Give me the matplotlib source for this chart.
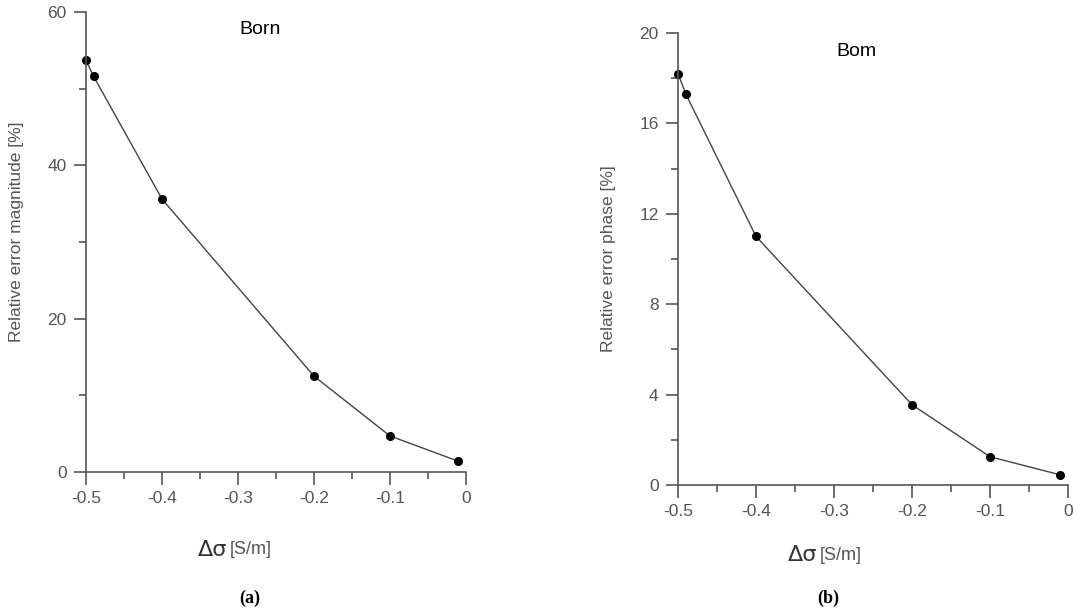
import matplotlib
matplotlib.use("Agg")
import matplotlib.pyplot as plt
from matplotlib.ticker import MultipleLocator

# Data
x_vals = [-0.5, -0.49, -0.4, -0.2, -0.1, -0.01]
mag_err = [53.7, 51.6, 35.6, 12.5, 4.7, 1.4]
phase_err = [18.2, 17.3, 11.0, 3.55, 1.25, 0.45]
titles = ["Born", "Bom"]
ylabels = ["Relative error magnitude [%]", "Relative error phase [%]"]
panel_labels = ["(a)", "(b)"]
xtick_vals = [-0.5, -0.4, -0.3, -0.2, -0.1, 0]
xtick_labels = ["-0.5", "-0.4", "-0.3", "-0.2", "-0.1", "0"]
ytick_mag = [0, 20, 40, 60]
ytick_phase = [0, 4, 8, 12, 16, 20]

font = "Liberation Sans"

fig = plt.figure(figsize=(10.74, 6.15), dpi=100)
ax1 = fig.add_axes([86/1074, 1-472/615, 380/1074, 460/615])
ax2 = fig.add_axes([678/1074, 1-485/615, 390/1074, 452/615])

gray = "#555555"
specs = [
    (ax1, mag_err, ytick_mag, 10, titles[0], ylabels[0], panel_labels[0], (260, 30), (17, 232), (240, 550), (250, 598)),
    (ax2, phase_err, ytick_phase, 2, titles[1], ylabels[1], panel_labels[1], (856, 52), (609, 259), (830, 555), (828, 598)),
]
for ax, yv, yt, mnr, ttl, yl, pl, tpos, ylpos, xlpos, plpos in specs:
    ax.plot(x_vals, yv, color="#444444", lw=1.0, marker="o", ms=5.5,
            mfc="black", mec="black", clip_on=False)
    ax.spines["top"].set_visible(False)
    ax.spines["right"].set_visible(False)
    for s in ("left", "bottom"):
        ax.spines[s].set_color(gray)
        ax.spines[s].set_linewidth(1.2)
    ax.set_xticks(xtick_vals)
    ax.set_xticklabels(xtick_labels)
    ax.set_yticks(yt)
    ax.set_yticklabels([str(t) for t in yt])
    ax.xaxis.set_minor_locator(MultipleLocator(0.05))
    ax.yaxis.set_minor_locator(MultipleLocator(mnr))
    ax.set_xlim(-0.5, 0)
    ax.set_ylim(yt[0], yt[-1])
    ax.tick_params(which="major", direction="out", length=9, width=1.2, color=gray,
                   labelcolor="#555555", labelsize=12.5, pad=5)
    ax.tick_params(which="minor", direction="out", length=5, width=1.2, color=gray)
    for lab in ax.get_xticklabels() + ax.get_yticklabels():
        lab.set_family(font)
    fig.text(tpos[0]/1074, 1-tpos[1]/615, ttl, ha="center", va="center",
             fontsize=14, color="black", family=font)
    fig.text(ylpos[0]/1074, 1-ylpos[1]/615, yl,
             rotation=90, ha="center", va="center", fontsize=12.5, color="#555555",
             family=font)
    fig.text(xlpos[0]/1074 - 0.012, 1-xlpos[1]/615, "Δσ", ha="right", va="center",
             fontsize=16, color="#333333", family="DejaVu Sans")
    fig.text(xlpos[0]/1074 - 0.010, 1-xlpos[1]/615, "[S/m]", ha="left", va="center",
             fontsize=13, color="#555555", family=font)
    fig.text(plpos[0]/1074, 1-plpos[1]/615, pl, ha="center", va="center",
             fontsize=13, fontweight="bold", family="Liberation Serif", color="black")

fig.savefig("out.png", dpi=100)
